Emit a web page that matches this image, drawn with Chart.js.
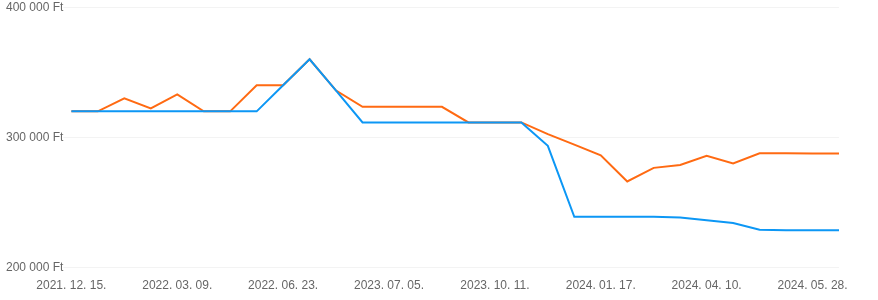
<!DOCTYPE html>
<html>
<head>
<meta charset="utf-8">
<script src="https://cdn.jsdelivr.net/npm/chart.js@4/dist/chart.umd.min.js"></script>
<style>
  html, body { margin: 0; padding: 0; background: #fff; }
  #wrap { position: relative; width: 878px; height: 300px; }
</style>
</head>
<body>
<div id="wrap"><canvas id="c"></canvas></div>
<script>
const categories = [
  "2021. 12. 15.", "2022. 01. 05.", "2022. 01. 26.", "2022. 02. 16.",
  "2022. 03. 09.", "2022. 03. 30.", "2022. 04. 27.", "2022. 05. 25.",
  "2022. 06. 23.", "2022. 09. 14.", "2022. 12. 07.", "2023. 03. 15.",
  "2023. 07. 05.", "2023. 08. 02.", "2023. 08. 30.", "2023. 09. 20.",
  "2023. 10. 11.", "2023. 11. 08.", "2023. 12. 06.", "2023. 12. 20.",
  "2024. 01. 17.", "2024. 02. 07.", "2024. 02. 28.", "2024. 03. 20.",
  "2024. 04. 10.", "2024. 04. 24.", "2024. 05. 08.", "2024. 05. 15.",
  "2024. 05. 28.", "2024. 06. 04."
];
const blueValues = [
  320000, 320000, 320000, 320000, 320000, 320000, 320000, 320000,
  340000, 360000, 336000, 311500, 311500, 311500, 311500, 311500,
  311500, 311500, 293500, 239000, 239000, 239000, 239000, 238500,
  236400, 234300, 229000, 228700, 228600, 228600
];
const orangeValues = [
  320000, 320000, 330000, 322300, 333000, 320000, 320000, 340000,
  340000, 360000, 336000, 323500, 323500, 323500, 323500, 311500,
  311500, 311500, 302500, 294500, 286200, 266200, 276600, 278800,
  285800, 280000, 287800, 287800, 287700, 287600
];
const yTicks = [200000, 300000, 400000];
const labelEvery = 4;

function fmtFt(v) {
  return String(Math.round(v)).replace(/\B(?=(\d{3})+(?!\d))/g, " ") + " Ft";
}

new Chart(document.getElementById("c"), {
  type: "line",
  data: {
    labels: categories,
    datasets: [
      {
        data: blueValues,
        borderColor: "#0c97f5",
        backgroundColor: "#0c97f5",
        borderWidth: 2,
        pointRadius: 0,
        tension: 0,
        fill: false
      },
      {
        data: orangeValues,
        borderColor: "#ff6a12",
        backgroundColor: "#ff6a12",
        borderWidth: 2,
        pointRadius: 0,
        tension: 0,
        fill: false
      }
    ]
  },
  options: {
    responsive: true,
    maintainAspectRatio: false,
    animation: false,
    layout: { padding: { left: 6, right: 39, top: -1.5, bottom: 4 } },
    plugins: { legend: { display: false }, tooltip: { enabled: false } },
    scales: {
      x: {
        grid: { display: false },
        border: { display: false },
        ticks: {
          autoSkip: false,
          maxRotation: 0,
          color: "#666",
          font: { family: "'Liberation Sans', Arial, sans-serif", size: 12 },
          callback: function (val, idx) {
            return idx % labelEvery === 0 ? categories[idx] : "";
          }
        }
      },
      y: {
        min: yTicks[0],
        max: yTicks[yTicks.length - 1],
        afterBuildTicks: function (axis) {
          axis.ticks = yTicks.map(v => ({ value: v }));
        },
        grid: { color: "#f3f3f3", tickLength: 8 },
        border: { display: false },
        ticks: {
          crossAlign: "far",
          padding: 0,
          color: "#666",
          font: { family: "'Liberation Sans', Arial, sans-serif", size: 12 },
          callback: function (v) { return fmtFt(v); }
        }
      }
    }
  }
});
</script>
</body>
</html>
